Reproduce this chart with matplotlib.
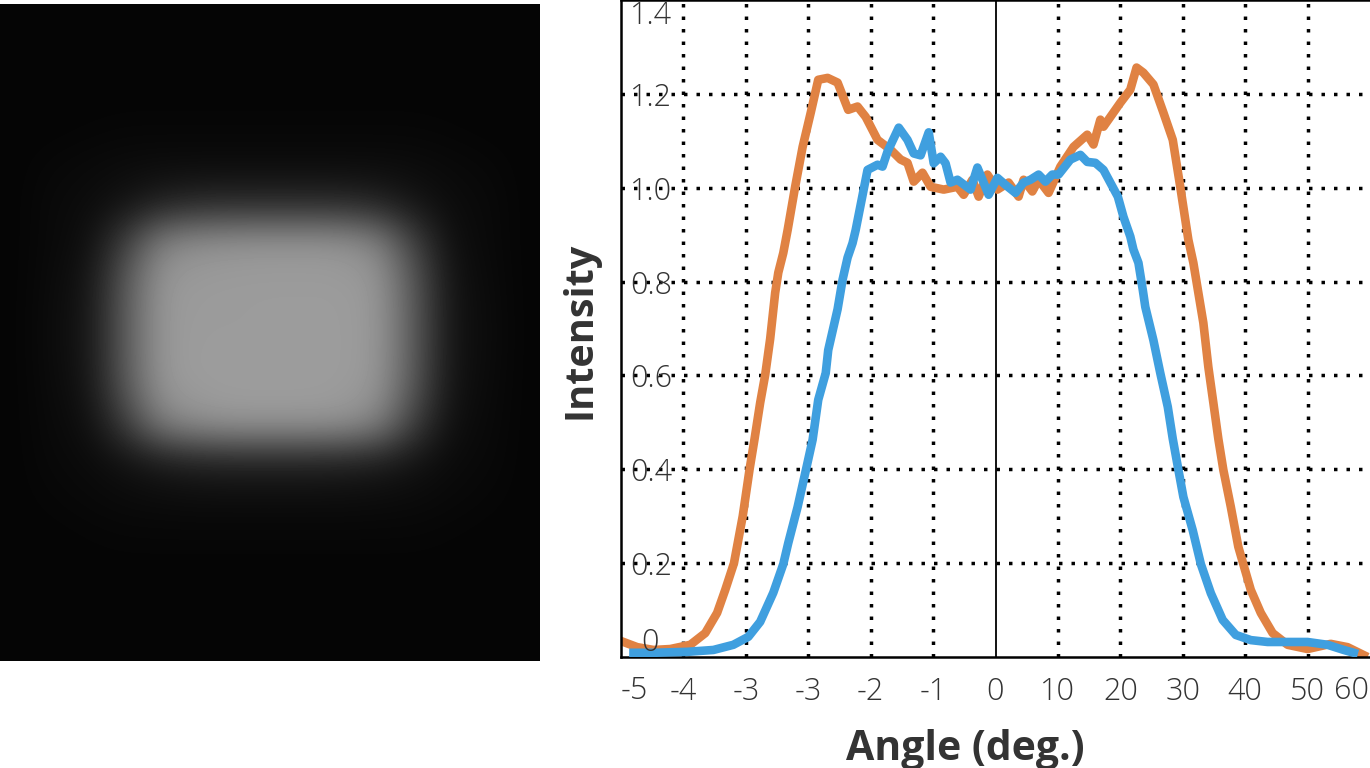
import numpy as np
import matplotlib
matplotlib.use('Agg')
import matplotlib.pyplot as plt

# beam image, grey level on a coarse grid
beam_levels = [
    [5, 5, 5, 5, 5, 5, 5, 5, 5, 5, 5, 5, 5, 5, 5],
    [5, 5, 5, 5, 5, 5, 5, 5, 5, 5, 5, 5, 5, 5, 5],
    [5, 5, 5, 5, 5, 5, 5, 5, 5, 5, 5, 5, 5, 5, 5],
    [5, 5, 6, 7, 7, 7, 7, 7, 7, 7, 7, 7, 6, 5, 5],
    [5, 8, 10, 12, 13, 13, 13, 13, 13, 13, 13, 12, 10, 8, 5],
    [5, 10, 12, 20, 34, 42, 44, 44, 44, 43, 36, 22, 12, 10, 5],
    [5, 10, 15, 62, 128, 142, 146, 148, 148, 146, 130, 64, 15, 10, 5],
    [5, 11, 20, 88, 150, 154, 155, 155, 155, 155, 150, 86, 19, 11, 5],
    [5, 12, 22, 92, 152, 155, 155, 156, 156, 156, 152, 90, 20, 12, 5],
    [5, 12, 22, 92, 152, 156, 156, 156, 156, 156, 152, 90, 20, 12, 5],
    [5, 11, 20, 88, 150, 156, 157, 157, 157, 156, 150, 86, 19, 11, 5],
    [5, 10, 15, 60, 126, 144, 150, 150, 150, 148, 130, 62, 15, 10, 5],
    [5, 9, 11, 18, 28, 34, 36, 36, 36, 34, 30, 20, 11, 9, 5],
    [5, 7, 9, 11, 12, 13, 13, 13, 13, 13, 12, 11, 9, 7, 5],
    [5, 5, 6, 7, 7, 7, 7, 7, 7, 7, 7, 7, 6, 5, 5],
    [5, 5, 5, 5, 5, 5, 5, 5, 5, 5, 5, 5, 5, 5, 5],
    [5, 5, 5, 5, 5, 5, 5, 5, 5, 5, 5, 5, 5, 5, 5],
    [5, 5, 5, 5, 5, 5, 5, 5, 5, 5, 5, 5, 5, 5, 5],
]

orange_angle = [-59.6, -57.4, -54.8, -52.1, -48.9, -46.5, -44.6, -43.3, -41.9, -40.5, -39.4, -38.6,
                -37.7, -36.9, -36.1, -35.3, -34.8, -34.0, -33.3, -32.1, -30.9, -29.6, -28.4, -26.9, -25.3, -23.6,
                -22.1, -20.8, -18.9, -16.8, -15.2, -14.1, -13.1, -11.7, -10.4, -8.3, -6.1, -5.1, -3.7, -2.7, -1.3,
                0.3, 2.1, 3.7, 4.5, 5.9, 6.9, 8.5, 10.4, 12.5, 14.7, 15.7, 16.8, 17.3, 20.0, 21.6, 22.6, 23.7, 25.3,
                26.9, 28.4, 29.6, 30.9, 31.7, 32.5, 33.3, 34.1, 34.9, 35.7, 36.5, 37.7, 38.9, 39.7, 40.9, 42.5, 44.4,
                46.8, 50.0, 53.7, 56.4, 59.0]
orange_intensity = [0.032, 0.021, 0.015, 0.017, 0.026, 0.051, 0.094, 0.143, 0.200, 0.300, 0.400, 0.465,
                    0.542, 0.601, 0.678, 0.776, 0.819, 0.861, 0.910, 1.002, 1.087, 1.160, 1.230, 1.234, 1.224, 1.166,
                    1.173, 1.151, 1.102, 1.081, 1.060, 1.053, 1.013, 1.032, 1.002, 0.996, 1.002, 0.985, 1.017, 0.981,
                    1.028, 0.996, 1.011, 0.981, 1.017, 0.992, 1.017, 0.989, 1.045, 1.087, 1.113, 1.092, 1.145, 1.130,
                    1.181, 1.209, 1.256, 1.245, 1.220, 1.160, 1.102, 1.002, 0.889, 0.840, 0.776, 0.712, 0.618, 0.542,
                    0.465, 0.399, 0.320, 0.235, 0.198, 0.143, 0.094, 0.051, 0.026, 0.017, 0.028, 0.021, 0.004]

blue_angle = [-58.0, -54.8, -49.4, -45.2, -42.0, -39.6, -37.7, -35.6, -34.0, -33.2, -31.7, -30.3, -29.3, -28.4, -27.2,
              -26.8, -25.3, -24.5, -23.7, -22.9, -22.4, -20.5, -18.9, -18.1, -17.3, -15.5, -14.1, -13.1, -12.0, -10.7,
              -9.9, -8.8, -8.0, -7.2, -6.1, -4.0, -2.9, -1.1, 0.3, 1.6, 3.2, 4.5, 5.6, 6.9, 8.0, 9.1, 10.1, 12.0, 13.6,
              14.7, 16.0, 17.3, 19.6, 20.5, 21.6, 22.1, 22.9, 23.6, 24.0, 25.3, 26.4, 27.6, 28.4, 29.3, 30.1, 31.6,
              32.9, 34.5, 36.4, 38.5, 40.9, 43.6, 47.3, 50.0, 53.2, 55.8, 57.4]
blue_intensity = [0.009, 0.009, 0.011, 0.015, 0.026, 0.043, 0.075, 0.137, 0.198, 0.243, 0.320, 0.403, 0.463, 0.548,
                  0.605, 0.654, 0.741, 0.804, 0.851, 0.882, 0.910, 1.038, 1.049, 1.045, 1.077, 1.128, 1.102, 1.073,
                  1.069, 1.118, 1.052, 1.066, 1.052, 1.011, 1.017, 0.996, 1.043, 0.985, 1.021, 1.006, 0.989, 1.011,
                  1.017, 1.028, 1.013, 1.028, 1.028, 1.060, 1.070, 1.055, 1.053, 1.038, 0.981, 0.938, 0.896, 0.868,
                  0.840, 0.782, 0.746, 0.675, 0.605, 0.533, 0.465, 0.399, 0.341, 0.270, 0.198, 0.136, 0.079, 0.047,
                  0.036, 0.032, 0.032, 0.032, 0.026, 0.015, 0.009]

x_grid = [-50, -40, -30, -20, -10, 0, 10, 20, 30, 40, 50]
x_grid_labels = ['-4', '-3', '-3', '-2', '-1', '0', '10', '20', '30', '40', '50']
y_grid = [0.2, 0.4, 0.6, 0.8, 1.0, 1.2]
y_grid_labels = ['0.2', '0.4', '0.6', '0.8', '1.0', '1.2']

TEXT_COLOUR = '#333333'
TICK_SIZE = 22
W, H = 1370.0, 768.0

plt.rcParams['font.family'] = ['Open Sans', 'DejaVu Sans']
fig = plt.figure(figsize=(13.7, 7.68), dpi=100)

# left panel
ax_img = fig.add_axes([0, (H - 661) / H, 540 / W, 657 / H])
ax_img.imshow(np.array(beam_levels), cmap='gray', vmin=0, vmax=255, aspect='auto', interpolation='bicubic')
ax_img.axis('off')

# right panel
ax = fig.add_axes([621 / W, (H - 657) / H, 749 / W, 657 / H])
ax.set_xlim(-60, 60)
ax.set_ylim(0, 1.4)

dots = (0, (1, 2.6))
for x in x_grid:
    if x != 0:
        ax.axvline(x, color='black', lw=2.5, ls=dots, zorder=1)
for y in y_grid:
    ax.axhline(y, color='black', lw=2.5, ls=dots, zorder=1)
ax.axvline(0, color='black', lw=1.3, zorder=1)

ax.plot(orange_angle, orange_intensity, color='#e08243', lw=6.2, solid_joinstyle='round', zorder=2)
ax.plot(blue_angle, blue_intensity, color='#3f9fdf', lw=6.2, solid_joinstyle='round', zorder=3)

for side in ['top', 'left', 'bottom']:
    ax.spines[side].set_linewidth(1.8)
ax.spines['right'].set_visible(False)

ax.set_xticks(x_grid)
ax.set_xticklabels(x_grid_labels)
ax.set_yticks(y_grid)
ax.set_yticklabels(y_grid_labels)
ax.tick_params(axis='x', length=0, pad=14, labelsize=TICK_SIZE, labelcolor=TEXT_COLOUR)
ax.tick_params(axis='y', length=0, pad=-37, labelsize=TICK_SIZE, labelcolor=TEXT_COLOUR)
for label in ax.get_xticklabels() + ax.get_yticklabels():
    label.set_fontweight('light')
    label.set_zorder(5)

# labels that sit off the grid in the original
tick_y = ax.get_xaxis_transform()
ax.text(-57.8, -0.052, '-5', transform=tick_y, ha='center', va='center', fontsize=TICK_SIZE, weight='light', color=TEXT_COLOUR, clip_on=False)
ax.text(57.0, -0.052, '60', transform=tick_y, ha='center', va='center', fontsize=TICK_SIZE, weight='light', color=TEXT_COLOUR, clip_on=False)
ax.text(-51.8, 1.365, '1.4', ha='right', va='center', fontsize=TICK_SIZE, weight='light', color=TEXT_COLOUR, zorder=5)
ax.text(-55.3, 0.03, '0', ha='center', va='center', fontsize=TICK_SIZE, weight='light', color=TEXT_COLOUR, zorder=5)

fig.text(965 / W, (H - 749) / H, 'Angle (deg.)', ha='center', va='center', fontsize=29.5, weight='bold', color=TEXT_COLOUR)
fig.text(580 / W, (H - 330) / H, 'Intensity', ha='center', va='center', rotation=90, fontsize=28.5, weight='bold', color=TEXT_COLOUR)

plt.savefig('out.png', dpi=100)
plt.close()
